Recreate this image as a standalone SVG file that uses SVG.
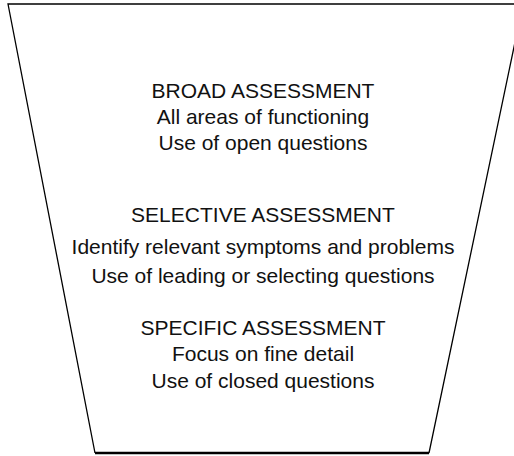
<svg xmlns="http://www.w3.org/2000/svg" width="514" height="456" viewBox="0 0 514 456">
<style>
text{font-family:"Liberation Sans",Arial,Helvetica,sans-serif;font-size:21px;fill:#111;text-anchor:middle}
.edge{fill:none;stroke:#000;stroke-width:1.3}
.base{fill:none;stroke:#000;stroke-width:2.6}
</style>
<rect width="514" height="456" fill="#fff"/>
<g id="funnel">
<path class="edge" d="M523,4 L8,4 L95,453 M429,453 L523,4"/>
<path class="base" d="M95,453 L429,453"/>
</g>
<g id="broad">
<text x="263" y="98">BROAD ASSESSMENT</text>
<text x="263" y="124">All areas of functioning</text>
<text x="263" y="150">Use of open questions</text>
</g>
<g id="selective">
<text x="263" y="222">SELECTIVE ASSESSMENT</text>
<text x="263" y="253.5">Identify relevant symptoms and problems</text>
<text x="263" y="283">Use of leading or selecting questions</text>
</g>
<g id="specific">
<text x="263" y="334.5">SPECIFIC ASSESSMENT</text>
<text x="263" y="361">Focus on fine detail</text>
<text x="263" y="388">Use of closed questions</text>
</g>
</svg>
